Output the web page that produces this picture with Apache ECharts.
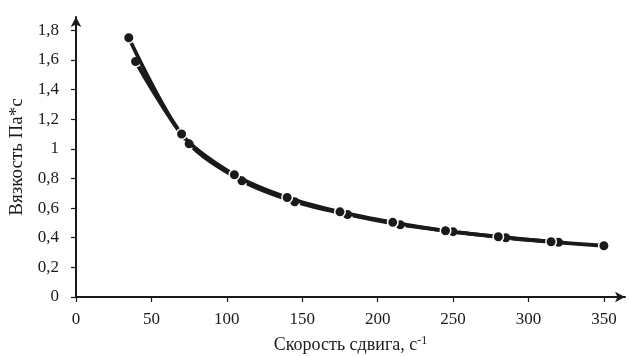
<!DOCTYPE html>
<html>
<head>
<meta charset="utf-8">
<script src="https://cdn.jsdelivr.net/npm/echarts@6/dist/echarts.min.js"></script>
<style>html,body{margin:0;padding:0;background:#fff;}#c{width:629px;height:356px;}</style>
</head>
<body>
<div id="c"></div>
<script>
const xTicks = [0, 50, 100, 150, 200, 250, 300, 350];
const yTicks = [0, 0.2, 0.4, 0.6, 0.8, 1, 1.2, 1.4, 1.6, 1.8];
const shearA = [35, 70, 105, 140, 175, 210, 245, 280, 315, 350];
const viscA = [1.75, 1.10, 0.825, 0.672, 0.575, 0.504, 0.447, 0.407, 0.373, 0.346];
const shearB = [39.5, 75, 110, 145, 180, 215, 250, 285, 320];
const viscB = [1.59, 1.034, 0.784, 0.643, 0.557, 0.488, 0.441, 0.400, 0.369];
const xName = 'Скорость сдвига, с';
const yName = 'Вязкость Па*с';

const pairs = (xs, ys) => xs.map((x, i) => [x, ys[i]]);
const font = 'Liberation Serif';
const ink = '#1a1a1a';
const chart = echarts.init(document.getElementById('c'), null, {renderer: 'canvas'});
chart.setOption({
  animation: false,
  grid: {left: 76, right: 4, top: 17, bottom: 59, outerBoundsMode: 'none', containLabel: false},
  xAxis: {
    type: 'value', min: 0, max: 364,
    name: xName + '{sup|-1}', nameLocation: 'middle', nameGap: 38,
    nameTextStyle: {fontFamily: font, fontSize: 18, color: ink,
      rich: {sup: {fontFamily: font, fontSize: 12, color: ink, verticalAlign: 'top', padding: [0, 0, 8, 0]}}},
    axisLine: {lineStyle: {color: ink, width: 2}, symbol: ['none', 'arrow'], symbolSize: [8, 10]},
    axisTick: {show: true, length: 5, lineStyle: {color: ink, width: 1.2}, customValues: xTicks},
    axisLabel: {fontFamily: font, fontSize: 17, color: ink, margin: 14, customValues: xTicks},
    splitLine: {show: false}
  },
  yAxis: {
    type: 'value', min: 0, max: 1.89,
    name: yName, nameLocation: 'middle', nameGap: 40, nameRotate: 90,
    nameTextStyle: {fontFamily: font, fontSize: 19, color: ink},
    axisLine: {show: true, lineStyle: {color: ink, width: 2}, symbol: ['none', 'arrow'], symbolSize: [8, 10]},
    axisTick: {show: true, length: 5, lineStyle: {color: ink, width: 1.2}, customValues: yTicks},
    axisLabel: {fontFamily: font, fontSize: 17, color: ink, margin: 17, customValues: yTicks,
      formatter: v => String(Math.round(v * 10) / 10).replace('.', ',')},
    splitLine: {show: false}
  },
  series: [
    {type: 'line', data: pairs(shearB, viscB), smooth: 0.3, symbol: 'circle', symbolSize: 10.5,
      lineStyle: {color: ink, width: 3.8}, itemStyle: {color: ink, borderColor: '#fff', borderWidth: 1.5}, z: 2},
    {type: 'line', data: pairs(shearA, viscA), smooth: 0.3, symbol: 'circle', symbolSize: 10.5,
      lineStyle: {color: ink, width: 3.8}, itemStyle: {color: ink, borderColor: '#fff', borderWidth: 1.5}, z: 4}
  ]
});
</script>
</body>
</html>
